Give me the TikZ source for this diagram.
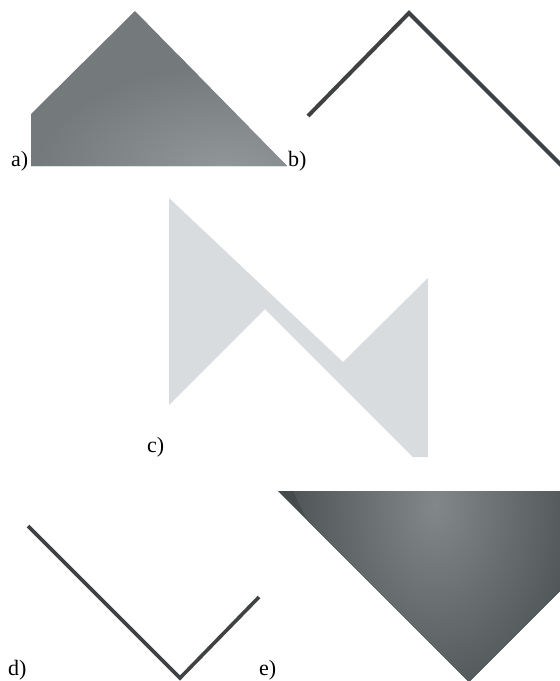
\documentclass[tikz,border=0pt]{standalone}
\usepackage{fontspec}
\setmainfont{Liberation Serif}
\usepackage{xcolor}
\usepackage{tikz}
\usetikzlibrary{positioning}
\definecolor{platemid}{RGB}{116,122,124}
\definecolor{platelight}{RGB}{146,151,153}
\definecolor{bentline}{RGB}{62,66,68}
\definecolor{paleplate}{RGB}{217,220,223}
\definecolor{darkplate}{RGB}{70,75,78}
\definecolor{darkshine}{RGB}{130,135,138}
\pgfdeclareradialshading{platespot}{\pgfpoint{0bp}{0bp}}{%
  color(0bp)=(platelight); color(22bp)=(platemid); color(50bp)=(platemid)}
\pgfdeclareradialshading{darkstreak}{\pgfpoint{0bp}{0bp}}{%
  color(0bp)=(darkshine); color(20bp)=(darkplate); color(50bp)=(darkplate)}

\begin{document}
\begin{tikzpicture}[x=1pt, y=-1pt,
    partlabel/.style={anchor=base west, inner sep=0pt,
                      font=\fontsize{22}{26}\selectfont},
    bent/.style={draw=bentline, line width=4pt, line join=miter}]
  \useasboundingbox (0,0) rectangle (560,681);

  % a) filled plate
  \begin{scope}
    \clip (31,166) -- (31,114) -- (135,11) -- (287,166) -- cycle;
    \fill[platemid] (0,0) rectangle (300,180);
    \begin{scope}[shift={(225,172)}, xscale=1.8]
      \shade[shading=platespot] (0,0) circle (120pt);
    \end{scope}
  \end{scope}
  \node[partlabel] (labelA) at (11,166) {a)};

  % b) bent outline
  \draw[bent] (308,116) -- (409,13) -- (562,166);
  \node[partlabel] (labelB) at (288,166) {b)};

  % c) cut-out shape
  \fill[paleplate] (169,198) -- (343,362) -- (428,278) -- (428,457)
    -- (413,457) -- (265,309) -- (169,405) -- cycle;
  \node[partlabel] (labelC) at (147,452) {c)};

  % d) bent outline
  \draw[bent, line width=3.6pt] (28,526) -- (180,678) -- (259,597);
  \node[partlabel] (labelD) at (8,675) {d)};

  % e) dark plate
  \begin{scope}
    \clip (278,491) -- (562,491) -- (562,589) -- (469,682) -- cycle;
    \fill[darkplate] (270,480) rectangle (570,690);
    \begin{scope}[shift={(435,505)}, rotate=-60, xscale=2.6]
      \shade[shading=darkstreak] (0,0) circle (120pt);
    \end{scope}
  \end{scope}
  \node[partlabel] (labelE) at (259,675) {e)};
\end{tikzpicture}
\end{document}
